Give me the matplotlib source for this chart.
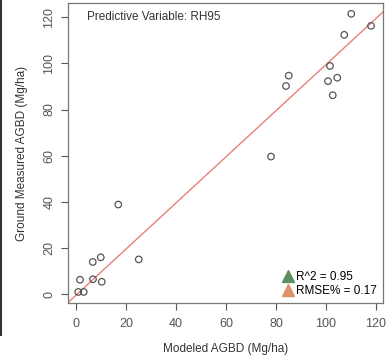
import matplotlib.pyplot as plt
from matplotlib.lines import Line2D

plt.rcParams['font.family'] = ['Liberation Sans', 'DejaVu Sans']

# Modeled vs ground measured AGBD (Mg/ha)
modeled = [110.1, 118.0, 107.3, 85.1, 84.0, 101.6, 100.8, 104.5, 102.7, 78.0,
           16.9, 6.7, 9.9, 25.1, 1.6, 6.8, 10.3, 0.9, 3.1]
measured = [121.5, 116.3, 112.4, 94.7, 90.2, 98.9, 92.3, 93.8, 86.2, 59.6,
            38.8, 13.9, 15.9, 15.0, 6.2, 6.4, 5.3, 0.9, 0.9]

fit_slope = 1.0
fit_intercept = -0.5
r2 = 0.95
rmse_pct = 0.17

fig = plt.figure(figsize=(3.87, 3.58), dpi=100)
ax = fig.add_axes([68/387, 1 - 303/358, 315/387, 300/358])

ax.scatter(modeled, measured, s=22, facecolors='none', edgecolors='#555555', linewidths=0.9, zorder=3)
ax.axline((0, fit_intercept), slope=fit_slope, color='#e8807a', lw=1.0, zorder=2)

ax.set_xlim(-3.2, 122.8)
ax.set_ylim(-3.9, 126.2)
ax.set_xticks([0, 20, 40, 60, 80, 100, 120])
ax.set_yticks([0, 20, 40, 60, 80, 100, 120])
ax.tick_params(direction='out', length=5, width=0.8, color='#555555', labelsize=9, labelcolor='#555555')
ax.tick_params(axis='x', pad=6)
ax.tick_params(axis='y', pad=4)
for lab in ax.get_yticklabels():
    lab.set_rotation(90)
    lab.set_va('center')
for s in ax.spines.values():
    s.set_color('#777777')
    s.set_linewidth(0.9)

ax.set_xlabel("Modeled AGBD (Mg/ha)", fontsize=8.5, color='#333333', labelpad=9)
ax.set_ylabel("Ground Measured AGBD (Mg/ha)", fontsize=8.5, color='#333333', labelpad=11)

ax.text(0.06, 0.955, "Predictive Variable: RH95", transform=ax.transAxes,
        fontsize=8.5, color='#333333', va='center')

handles = [Line2D([], [], marker='^', ls='none', color='#5e8f5e', markersize=9),
           Line2D([], [], marker='^', ls='none', color='#e0936a', markersize=9)]
labels = [f"R^2 = {r2}", f"RMSE% = {rmse_pct}"]
ax.legend(handles, labels, loc='lower right', frameon=False, fontsize=8.5,
          handletextpad=0.1, borderaxespad=0.3, labelspacing=0.15, handlelength=1.2,
          borderpad=0.2)

fig.add_artist(Line2D([0.002, 0.002], [1, 1 - 335/358], color='#333333', lw=1.5, transform=fig.transFigure))

fig.savefig("out.png", dpi=100)
